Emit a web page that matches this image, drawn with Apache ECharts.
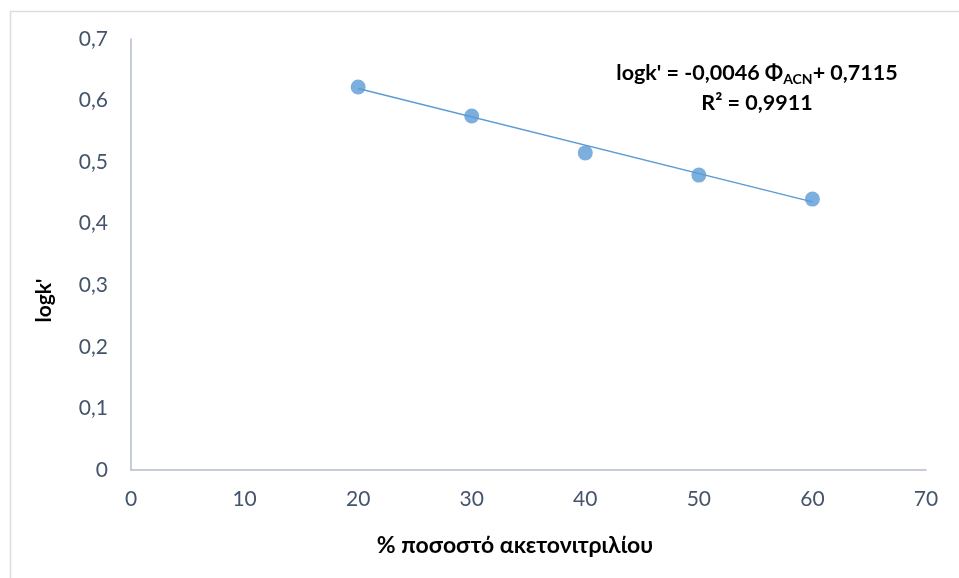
<!DOCTYPE html>
<html>
<head>
<meta charset="utf-8">
<script src="https://cdn.jsdelivr.net/npm/echarts@6/dist/echarts.min.js"></script>
</head>
<body style="margin:0;background:#fff">
<div id="container" style="width:959px;height:578px;"></div>
<script type="text/javascript">
// % acetonitrile vs logk'
var acn = [20, 30, 40, 50, 60];
var logk = [0.622, 0.575, 0.515, 0.479, 0.440];
// linear trendline end points (logk' = -0.0046 x + 0.7115)
var trendX = [20, 60];
var trendY = [0.6195, 0.4355];
var eqLine1 = "logk' = -0,0046 Φ";
var eqSub = "ACN";
var eqLine1b = "+ 0,7115";
var eqLine2 = "R² = 0,9911";

var font = "Lato, 'Open Sans', 'Noto Sans', sans-serif";
var blue = '#5b9bd5';
var axisCol = '#b4bccc';
var labelCol = '#44546a';

function fmt(v){ return String(+v.toFixed(1)).replace('.', ','); }

var pts = acn.map(function(x,i){ return [x, logk[i]]; });
var trend = trendX.map(function(x,i){ return [x, trendY[i]]; });

var myChart = echarts.init(document.getElementById('container'));
var option = {
    animation: false,
    textStyle: {fontFamily: font},
    grid: {left: 131, right: 33, top: 39, bottom: 108},
    xAxis: {
        type: 'value', min: 0, max: 70, interval: 10,
        name: '% ποσοστό ακετονιτριλίου', nameLocation: 'middle', nameGap: 64,
        nameTextStyle: {fontFamily: font, fontSize: 23, fontWeight: 'bold', color: '#000', padding: [0, 27, 0, 0]},
        axisLine: {lineStyle: {color: axisCol, width: 1.5}},
        axisTick: {show: false},
        splitLine: {show: false},
        axisLabel: {fontFamily: font, fontSize: 21, color: labelCol, margin: 19}
    },
    yAxis: {
        type: 'value', min: 0, max: 0.7, interval: 0.1,
        name: "logk'", nameLocation: 'middle', nameGap: 76,
        nameTextStyle: {fontFamily: font, fontSize: 21, fontWeight: 'bold', color: '#000', padding: [0, 92, 0, 0]},
        axisLine: {show: true, lineStyle: {color: axisCol, width: 1.5}},
        axisTick: {show: false},
        splitLine: {show: false},
        axisLabel: {fontFamily: font, fontSize: 21, color: labelCol, margin: 23, formatter: fmt}
    },
    graphic: [
        {type: 'rect', left: 8, top: 9, shape: {width: 1000, height: 600},
         style: {fill: 'none', stroke: '#d9dde4', lineWidth: 1.5}, z: -1},
        {type: 'text', x: 757, y: 73, style: {
            text: '{a|' + eqLine1 + '}{s|' + eqSub + '}{a|' + eqLine1b + '}',
            align: 'center', verticalAlign: 'middle',
            rich: {
                a: {fontFamily: font, fontSize: 21.5, fontWeight: 'bold', fill: '#000', lineHeight: 28},
                s: {fontFamily: font, fontSize: 14, fontWeight: 'bold', fill: '#000', padding: [12, 0, 0, 0]}
            }
        }},
        {type: 'text', x: 757, y: 103, style: {
            text: eqLine2, align: 'center', verticalAlign: 'middle',
            font: 'bold 21.5px ' + font, fill: '#000'
        }}
    ],
    series: [
        {type: 'line', data: trend, showSymbol: false, symbol: 'none',
         lineStyle: {color: blue, width: 1.5}, z: 1},
        {type: 'scatter', data: pts, symbolSize: 15,
         itemStyle: {color: blue}, z: 2}
    ]
};
myChart.setOption(option);
</script>
</body>
</html>
